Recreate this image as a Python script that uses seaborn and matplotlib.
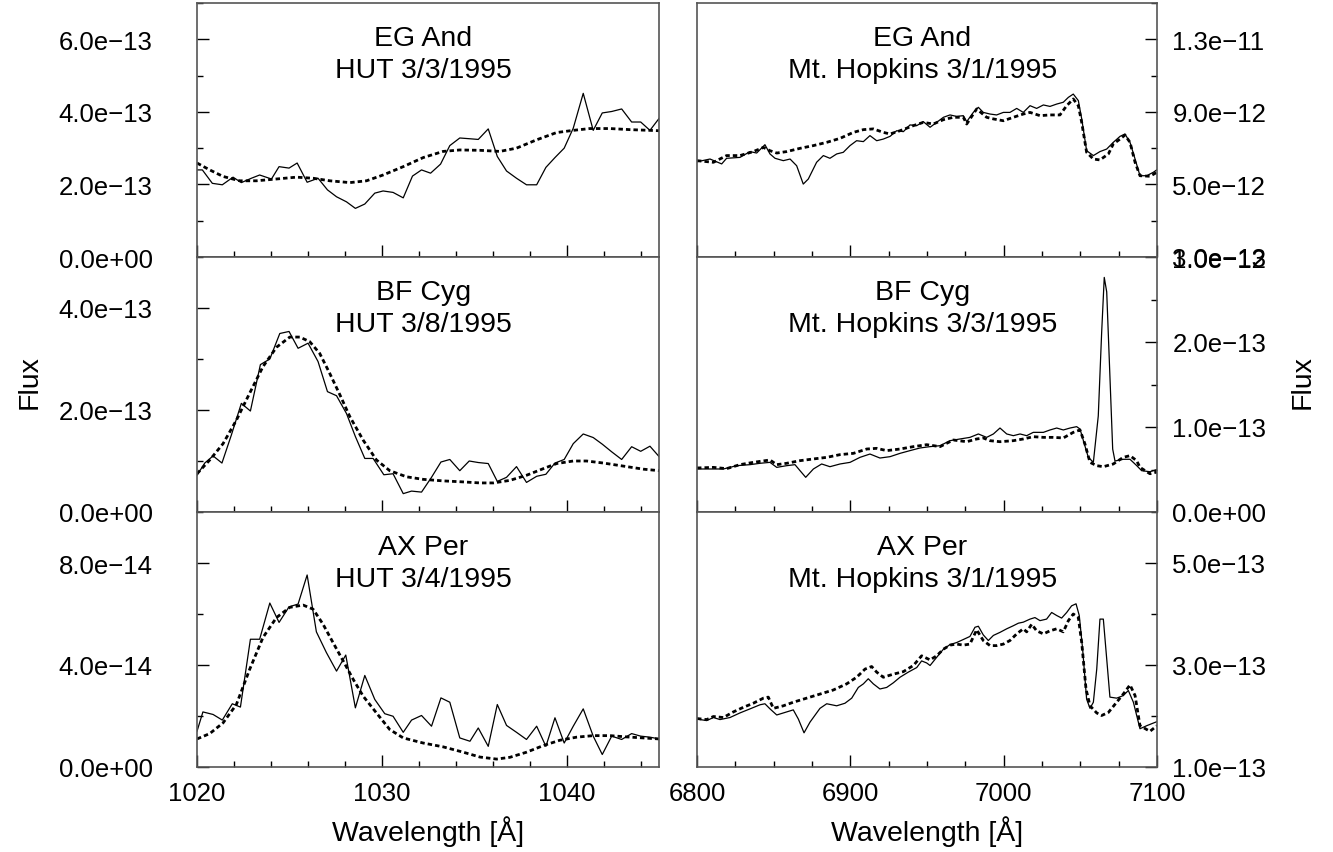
import matplotlib
matplotlib.use("Agg")
import matplotlib.pyplot as plt
from matplotlib.ticker import MultipleLocator, FuncFormatter
import seaborn as sns

sns.set_theme(style="white")
plt.rcParams["font.family"] = ["Liberation Sans", "DejaVu Sans"]
plt.rcParams["text.color"] = "black"

# ---------------------------------------------------------------- data ----
# HUT spectra (flux in units of 1e-13 / 1e-14 as noted), wavelength in A
EG_HUT_WL = [1020.00, 1020.29, 1020.83, 1021.37, 1021.95, 1022.40, 1022.94, 1023.39,
             1024.03, 1024.44, 1024.98, 1025.42, 1025.96, 1026.55, 1027.06, 1027.55,
             1028.09, 1028.57, 1029.08, 1029.62, 1030.07, 1030.61, 1031.16, 1031.66,
             1032.15, 1032.64, 1033.18, 1033.68, 1034.22, 1034.73, 1035.22, 1035.76,
             1036.25, 1036.75, 1037.29, 1037.83, 1038.38, 1038.88, 1039.37, 1039.87,
             1040.36, 1040.90, 1041.44, 1041.93, 1042.44, 1042.98, 1043.52, 1044.01,
             1044.51, 1045.02]
EG_HUT_OBS = [2.40, 2.40, 2.03, 1.99, 2.20, 2.05, 2.17, 2.26, 2.15, 2.49, 2.45, 2.59,
              2.06, 2.17, 1.85, 1.66, 1.52, 1.34, 1.46, 1.76, 1.82, 1.78, 1.63, 2.23,
              2.40, 2.31, 2.56, 3.07, 3.28, 3.26, 3.24, 3.53, 2.77, 2.37, 2.17, 1.99,
              1.99, 2.47, 2.74, 3.00, 3.55, 4.51, 3.49, 3.97, 4.01, 4.08, 3.72, 3.72,
              3.49, 3.83]  # 1e-13
EG_HUT_MOD_WL = [1020.0, 1020.69, 1021.41, 1022.31, 1023.21, 1024.30, 1025.38, 1026.29,
                 1027.19, 1028.27, 1029.17, 1030.07, 1031.16, 1032.24, 1033.32, 1034.22,
                 1035.31, 1036.39, 1037.29, 1038.38, 1039.46, 1040.36, 1041.26, 1042.35,
                 1043.43, 1044.51, 1045.02]
EG_HUT_MOD = [2.59, 2.40, 2.22, 2.10, 2.10, 2.15, 2.20, 2.17, 2.10, 2.05, 2.10, 2.26,
              2.49, 2.74, 2.91, 2.95, 2.94, 2.91, 3.00, 3.23, 3.43, 3.49, 3.54, 3.54,
              3.51, 3.49, 3.48]  # 1e-13

BF_HUT_WL = [1020.00, 1020.42, 1020.87, 1021.35, 1021.86, 1022.40, 1022.89, 1023.43,
             1023.94, 1024.48, 1024.98, 1025.47, 1026.01, 1026.55, 1027.06, 1027.55,
             1028.09, 1028.57, 1029.08, 1029.53, 1030.11, 1030.61, 1031.16, 1031.61,
             1032.15, 1032.69, 1033.20, 1033.68, 1034.22, 1034.73, 1035.22, 1035.76,
             1036.25, 1036.75, 1037.29, 1037.83, 1038.38, 1038.88, 1039.37, 1039.87,
             1040.36, 1040.90, 1041.44, 1041.93, 1042.44, 1042.98, 1043.52, 1044.01,
             1044.51, 1045.02]
BF_HUT_OBS = [0.72, 0.96, 1.10, 0.96, 1.51, 2.13, 1.98, 2.89, 3.00, 3.50, 3.54, 3.21,
              3.31, 2.95, 2.36, 2.28, 1.93, 1.48, 1.05, 1.05, 0.73, 0.75, 0.36, 0.41,
              0.39, 0.68, 0.98, 1.03, 0.81, 1.00, 0.97, 0.95, 0.60, 0.68, 0.89, 0.58,
              0.70, 0.74, 0.96, 1.03, 1.34, 1.53, 1.46, 1.33, 1.18, 1.03, 1.28, 1.19,
              1.29, 1.08]  # 1e-13
BF_HUT_MOD_WL = [1020.0, 1020.69, 1021.41, 1022.13, 1022.85, 1023.57, 1024.30, 1025.02,
                 1025.56, 1026.10, 1026.64, 1027.18, 1027.73, 1028.27, 1028.99, 1029.71,
                 1030.43, 1031.34, 1032.24, 1033.32, 1034.41, 1035.31, 1036.03, 1036.93,
                 1037.83, 1038.74, 1039.46, 1040.36, 1041.08, 1041.99, 1043.07, 1044.15,
                 1045.02]
BF_HUT_MOD = [0.75, 1.02, 1.34, 1.80, 2.33, 2.85, 3.23, 3.43, 3.43, 3.34, 3.11, 2.72,
              2.30, 1.87, 1.41, 1.02, 0.81, 0.69, 0.64, 0.61, 0.59, 0.57, 0.57, 0.62,
              0.72, 0.85, 0.95, 1.00, 1.00, 0.96, 0.90, 0.84, 0.81]  # 1e-13

AX_HUT_WL = [1020.00, 1020.32, 1020.87, 1021.37, 1021.91, 1022.35, 1022.89, 1023.39,
             1023.94, 1024.44, 1024.98, 1025.47, 1025.96, 1026.46, 1027.00, 1027.55,
             1028.05, 1028.57, 1029.08, 1029.62, 1030.16, 1030.61, 1031.16, 1031.61,
             1032.15, 1032.69, 1033.20, 1033.68, 1034.22, 1034.77, 1035.22, 1035.76,
             1036.25, 1036.75, 1037.29, 1037.83, 1038.38, 1038.88, 1039.37, 1039.87,
             1040.36, 1040.90, 1041.44, 1041.93, 1042.44, 1042.98, 1043.52, 1044.01,
             1044.51, 1045.02]
AX_HUT_OBS = [1.40, 2.16, 2.06, 1.84, 2.48, 2.35, 5.01, 5.01, 6.43, 5.67, 6.28, 6.39,
              7.53, 5.30, 4.49, 3.76, 4.39, 2.32, 3.59, 2.65, 2.09, 1.99, 1.36, 1.84,
              2.02, 1.60, 2.71, 2.54, 1.14, 1.01, 1.53, 0.81, 2.45, 1.63, 1.36, 1.08,
              1.60, 0.81, 1.93, 0.94, 1.60, 2.28, 1.21, 0.49, 1.21, 1.08, 1.31, 1.21,
              1.17, 1.10]  # 1e-14
AX_HUT_MOD_WL = [1020.0, 1020.69, 1021.41, 1022.13, 1022.85, 1023.57, 1024.30, 1025.02,
                 1025.74, 1026.28, 1026.82, 1027.36, 1027.91, 1028.45, 1028.99, 1029.71,
                 1030.43, 1031.16, 1032.24, 1033.32, 1034.41, 1035.31, 1036.21, 1036.93,
                 1037.83, 1038.74, 1039.64, 1040.54, 1041.44, 1042.35, 1043.25, 1044.15,
                 1045.02]
AX_HUT_MOD = [1.10, 1.31, 1.73, 2.45, 3.83, 5.08, 5.86, 6.26, 6.35, 6.19, 5.60, 4.88,
              4.16, 3.44, 2.78, 2.12, 1.47, 1.14, 0.94, 0.79, 0.58, 0.39, 0.31, 0.38,
              0.58, 0.84, 1.05, 1.17, 1.23, 1.23, 1.18, 1.14, 1.10]  # 1e-14

# Mt. Hopkins spectra
EG_MH_WL = [6800.0, 6808.5, 6816.1, 6819.3, 6828.0, 6834.6, 6838.9, 6844.3, 6847.6,
            6850.9, 6856.3, 6860.7, 6865.0, 6869.3, 6872.6, 6878.0, 6882.4, 6886.7,
            6891.1, 6895.4, 6899.8, 6904.1, 6908.5, 6912.8, 6917.2, 6921.5, 6925.9,
            6930.2, 6934.6, 6938.9, 6943.3, 6947.6, 6952.0, 6956.3, 6960.7, 6965.0,
            6969.3, 6973.7, 6975.9, 6980.2, 6983.5, 6986.7, 6991.1, 6995.4, 6999.8,
            7004.1, 7008.5, 7012.8, 7017.2, 7021.5, 7025.9, 7030.2, 7034.6, 7038.9,
            7042.2, 7045.4, 7048.7, 7050.9, 7054.1, 7058.5, 7062.8, 7067.2, 7071.5,
            7075.9, 7079.1, 7082.4, 7085.7, 7088.9, 7093.3, 7097.6, 7100.0]
EG_MH_OBS = [6.25, 6.40, 6.13, 6.44, 6.49, 6.81, 6.73, 7.19, 6.68, 6.44, 6.31, 6.40,
             6.03, 5.02, 5.30, 6.22, 6.59, 6.44, 6.68, 6.77, 7.14, 7.41, 7.36, 7.69,
             7.41, 7.50, 7.65, 7.96, 7.91, 8.28, 8.24, 8.46, 8.15, 8.42, 8.70, 8.83,
             8.75, 8.79, 8.46, 8.97, 9.25, 8.97, 8.88, 8.83, 8.97, 8.97, 9.19, 8.97,
             9.34, 9.19, 9.38, 9.30, 9.43, 9.53, 9.80, 9.98, 9.62, 8.61, 6.86, 6.59,
             6.81, 6.95, 7.32, 7.65, 7.78, 7.32, 6.40, 5.48, 5.48, 5.67, 5.81]  # 1e-12
EG_MH_MOD_WL = [6800.0, 6810.7, 6819.3, 6828.0, 6836.7, 6843.3, 6847.6, 6852.0, 6858.5,
                6867.2, 6875.9, 6884.6, 6893.3, 6902.0, 6908.5, 6915.0, 6921.5, 6925.9,
                6932.4, 6941.1, 6947.6, 6954.1, 6960.7, 6967.2, 6973.7, 6975.9, 6982.4,
                6988.9, 6993.3, 6999.8, 7006.3, 7012.8, 7017.2, 7023.7, 7030.2, 7036.7,
                7041.1, 7045.4, 7048.7, 7050.9, 7054.1, 7058.5, 7062.8, 7068.3, 7071.5,
                7075.9, 7079.1, 7082.4, 7085.7, 7088.9, 7095.4, 7100.0]
EG_MH_MOD = [6.31, 6.22, 6.59, 6.59, 6.81, 7.04, 6.86, 6.73, 6.81, 6.99, 7.14, 7.32,
             7.54, 7.87, 8.02, 8.06, 7.87, 7.78, 7.96, 8.24, 8.42, 8.33, 8.57, 8.70,
             8.70, 8.33, 9.16, 8.70, 8.61, 8.51, 8.70, 8.88, 8.97, 8.79, 8.83, 8.83,
             9.34, 9.71, 9.34, 8.42, 6.77, 6.40, 6.35, 6.68, 7.23, 7.50, 7.72, 7.32,
             6.22, 5.48, 5.45, 5.67]  # 1e-12

BF_MH_WL = [6800.0, 6808.5, 6817.2, 6825.9, 6834.6, 6841.1, 6847.6, 6852.0, 6858.5,
            6863.9, 6867.2, 6870.9, 6875.9, 6881.3, 6886.7, 6893.3, 6899.8, 6906.3,
            6912.8, 6919.3, 6925.9, 6932.4, 6938.9, 6945.4, 6952.0, 6958.5, 6965.0,
            6971.5, 6978.0, 6983.5, 6988.9, 6993.3, 6997.6, 7002.0, 7006.3, 7010.7,
            7015.0, 7019.3, 7025.9, 7030.2, 7034.6, 7038.9, 7043.3, 7047.6, 7049.8,
            7052.0, 7055.2, 7058.5, 7061.7, 7063.9, 7065.6, 7067.2, 7071.1, 7072.6,
            7078.0, 7082.4, 7086.8, 7090.0, 7095.4, 7100.0]
BF_MH_OBS = [0.506, 0.506, 0.506, 0.545, 0.557, 0.573, 0.584, 0.525, 0.545, 0.557,
             0.486, 0.408, 0.506, 0.565, 0.533, 0.565, 0.584, 0.643, 0.682, 0.635,
             0.651, 0.690, 0.722, 0.753, 0.769, 0.780, 0.839, 0.859, 0.878, 0.918,
             0.878, 0.918, 0.988, 0.918, 0.898, 0.918, 0.898, 0.937, 0.937, 0.965,
             0.988, 0.965, 0.988, 1.004, 0.976, 0.839, 0.643, 0.585, 1.13, 2.11,
             2.76, 2.59, 0.74, 0.60, 0.62, 0.62, 0.545, 0.486, 0.474, 0.50]  # 1e-13
BF_MH_MOD_WL = [6800.0, 6810.7, 6819.3, 6828.0, 6836.7, 6847.6, 6852.0, 6858.5, 6867.2,
                6875.9, 6884.6, 6893.3, 6902.0, 6910.7, 6917.2, 6923.7, 6932.4, 6941.1,
                6949.8, 6958.5, 6962.8, 6967.2, 6975.9, 6982.4, 6986.7, 6991.1, 6997.6,
                7006.3, 7012.8, 7019.3, 7025.9, 7032.4, 7038.9, 7045.4, 7049.8, 7053.0,
                7056.3, 7060.7, 7065.0, 7071.5, 7078.0, 7082.4, 7086.7, 7088.9, 7095.4,
                7100.0]
BF_MH_MOD = [0.518, 0.525, 0.51, 0.557, 0.584, 0.612, 0.557, 0.573, 0.604, 0.624,
             0.643, 0.675, 0.690, 0.741, 0.749, 0.722, 0.741, 0.769, 0.792, 0.769,
             0.808, 0.847, 0.827, 0.859, 0.871, 0.839, 0.827, 0.839, 0.859, 0.886,
             0.878, 0.878, 0.871, 0.937, 0.965, 0.800, 0.584, 0.545, 0.533, 0.565,
             0.643, 0.663, 0.604, 0.525, 0.45, 0.47]  # 1e-13

AX_MH_WL = [6800.0, 6806.3, 6810.7, 6815.0, 6821.5, 6828.0, 6834.6, 6841.1, 6844.3,
            6847.6, 6852.0, 6857.4, 6862.8, 6866.1, 6869.8, 6873.7, 6880.2, 6884.6,
            6891.1, 6896.5, 6900.9, 6905.2, 6908.5, 6911.7, 6915.0, 6919.3, 6923.7,
            6928.0, 6932.4, 6937.8, 6943.3, 6946.5, 6949.8, 6952.0, 6956.3, 6960.7,
            6965.0, 6969.3, 6973.7, 6978.0, 6981.3, 6983.5, 6986.7, 6990.0, 6993.3,
            6997.6, 7002.0, 7006.3, 7009.6, 7012.8, 7017.2, 7020.4, 7023.7, 7028.0,
            7031.3, 7034.6, 7037.8, 7041.1, 7044.3, 7047.2, 7049.3, 7051.5, 7054.1,
            7056.3, 7058.5, 7060.7, 7062.8, 7065.0, 7067.2, 7069.3, 7073.7, 7078.0,
            7081.3, 7084.6, 7088.9, 7093.3, 7100.0]
AX_MH_OBS = [1.94, 1.91, 1.97, 1.93, 1.97, 2.06, 2.14, 2.22, 2.24, 2.14, 2.02, 2.07,
             2.12, 1.94, 1.67, 1.88, 2.15, 2.24, 2.20, 2.25, 2.35, 2.56, 2.63, 2.73,
             2.63, 2.53, 2.56, 2.65, 2.76, 2.86, 2.95, 3.08, 3.04, 2.99, 3.15, 3.31,
             3.40, 3.44, 3.50, 3.56, 3.74, 3.76, 3.59, 3.48, 3.58, 3.64, 3.71, 3.77,
             3.82, 3.84, 3.90, 3.93, 3.87, 3.90, 4.03, 3.97, 3.92, 4.03, 4.16, 4.20,
             3.97, 3.31, 2.33, 2.15, 2.27, 2.92, 3.90, 3.90, 3.12, 2.37, 2.35, 2.40,
             2.50, 2.27, 1.75, 1.81, 1.89]  # 1e-13
AX_MH_MOD_WL = [6800.0, 6806.3, 6810.7, 6817.2, 6823.7, 6830.2, 6836.7, 6843.3, 6846.5,
                6849.8, 6856.3, 6862.8, 6871.5, 6880.2, 6888.9, 6897.6, 6904.1, 6909.6,
                6913.9, 6917.2, 6921.5, 6928.0, 6934.6, 6941.1, 6946.5, 6952.0, 6956.3,
                6960.7, 6965.0, 6969.3, 6973.7, 6978.0, 6982.4, 6986.7, 6991.1, 6995.4,
                6999.8, 7004.1, 7008.5, 7012.8, 7015.0, 7018.3, 7021.5, 7025.9, 7030.2,
                7034.6, 7038.9, 7042.2, 7045.4, 7048.7, 7050.9, 7053.7, 7056.3, 7060.7,
                7063.9, 7068.3, 7073.7, 7078.0, 7082.4, 7085.7, 7088.9, 7095.4, 7100.0]
AX_MH_MOD = [1.95, 1.93, 1.99, 1.97, 2.08, 2.17, 2.25, 2.35, 2.37, 2.15, 2.20, 2.27,
             2.35, 2.43, 2.51, 2.63, 2.76, 2.92, 2.97, 2.86, 2.76, 2.82, 2.87, 2.99,
             3.18, 3.10, 3.18, 3.31, 3.39, 3.41, 3.39, 3.41, 3.69, 3.48, 3.38, 3.38,
             3.41, 3.48, 3.61, 3.71, 3.65, 3.80, 3.67, 3.61, 3.67, 3.71, 3.65, 3.87,
             4.00, 3.93, 3.44, 2.53, 2.20, 2.06, 2.01, 2.07, 2.27, 2.43, 2.61, 2.40,
             1.81, 1.70, 1.81]  # 1e-13

TITLES = ["EG And\nHUT 3/3/1995", "EG And\nMt. Hopkins 3/1/1995",
          "BF Cyg\nHUT 3/8/1995", "BF Cyg\nMt. Hopkins 3/3/1995",
          "AX Per\nHUT 3/4/1995", "AX Per\nMt. Hopkins 3/1/1995"]

# panel set-up: (obs wl, obs, model wl, model, unit, ylim, major, minor, offset)
PANELS = [
    (EG_HUT_WL, EG_HUT_OBS, EG_HUT_MOD_WL, EG_HUT_MOD, 1e-13, (0, 7e-13), 2e-13, 1e-13, 0),
    (EG_MH_WL, EG_MH_OBS, EG_MH_MOD_WL, EG_MH_MOD, 1e-12, (1e-12, 1.5e-11), 4e-12, 2e-12, 1e-12),
    (BF_HUT_WL, BF_HUT_OBS, BF_HUT_MOD_WL, BF_HUT_MOD, 1e-13, (0, 5e-13), 2e-13, 1e-13, 0),
    (BF_MH_WL, BF_MH_OBS, BF_MH_MOD_WL, BF_MH_MOD, 1e-13, (0, 3e-13), 1e-13, 0.5e-13, 0),
    (AX_HUT_WL, AX_HUT_OBS, AX_HUT_MOD_WL, AX_HUT_MOD, 1e-14, (0, 1e-13), 4e-14, 2e-14, 0),
    (AX_MH_WL, AX_MH_OBS, AX_MH_MOD_WL, AX_MH_MOD, 1e-13, (1e-13, 6e-13), 2e-13, 1e-13, 1e-13),
]

FS = 18.5
FS_BIG = 20.5
fmt = FuncFormatter(lambda v, p: f"{v:.1e}".replace("-", "\u2212"))

fig = plt.figure(figsize=(13.33, 8.53), dpi=100)
col_x = [197 / 1333, 697 / 1333]
col_w = [462 / 1333, 460 / 1333]
row_top = [4, 258, 513]
row_bot = [258, 513, 768]

for i, (wl, obs, mwl, mod, unit, ylim, major, minor, off) in enumerate(PANELS):
    r, c = divmod(i, 2)
    y0 = (853 - row_bot[r]) / 853
    h = (row_bot[r] - row_top[r]) / 853
    ax = fig.add_axes([col_x[c], y0, col_w[c], h])
    ax.set_facecolor("white")

    sns.lineplot(x=wl, y=[v * unit for v in obs], ax=ax, color="black", lw=0.9,
                 estimator=None, sort=False)
    sns.lineplot(x=mwl, y=[v * unit for v in mod], ax=ax, color="black", lw=2.0,
                 estimator=None, sort=False)
    ax.lines[-1].set_dashes((1.6, 1.1))

    ax.set_ylim(*ylim)
    if c == 0:
        ax.set_xlim(1020, 1045)
        ax.xaxis.set_major_locator(MultipleLocator(10))
        ax.xaxis.set_minor_locator(MultipleLocator(2))
    else:
        ax.set_xlim(6800, 7100)
        ax.xaxis.set_major_locator(MultipleLocator(100))
        ax.xaxis.set_minor_locator(MultipleLocator(25))
    ax.yaxis.set_major_locator(MultipleLocator(major, offset=off))
    ax.yaxis.set_minor_locator(MultipleLocator(minor, offset=off))
    ax.yaxis.set_major_formatter(fmt)

    ax.tick_params(which="both", direction="in", colors="black", labelsize=FS,
                   top=False, bottom=True, width=1.0)
    ax.tick_params(which="major", length=8.5)
    ax.tick_params(which="minor", length=4.5)
    ax.tick_params(axis="x", pad=10, labelbottom=(r == 2))
    if c == 0:
        ax.tick_params(axis="y", which="both", left=True, right=False,
                       labelleft=True, labelright=False, pad=32)
    else:
        ax.tick_params(axis="y", which="both", left=False, right=True,
                       labelleft=False, labelright=True, pad=11)
    for s in ax.spines.values():
        s.set_color("#555555")
        s.set_linewidth(1.2)
    ax.set_xlabel("")
    ax.set_ylabel("")

    ax.text(0.49, 0.915, TITLES[i], transform=ax.transAxes, ha="center", va="top",
            fontsize=FS_BIG, linespacing=1.32, color="black")

for cx, cw in zip(col_x, col_w):
    fig.text(cx + cw / 2, 1 - 832 / 853, "Wavelength [Å]", ha="center", va="center",
             fontsize=FS_BIG, color="black")
fig.text(30 / 1333, 0.552, "Flux", rotation=90, ha="center", va="center",
         fontsize=FS_BIG, color="black")
fig.text(1303 / 1333, 0.552, "Flux", rotation=90, ha="center", va="center",
         fontsize=FS_BIG, color="black")

fig.savefig("out.png", dpi=100, facecolor="white")
